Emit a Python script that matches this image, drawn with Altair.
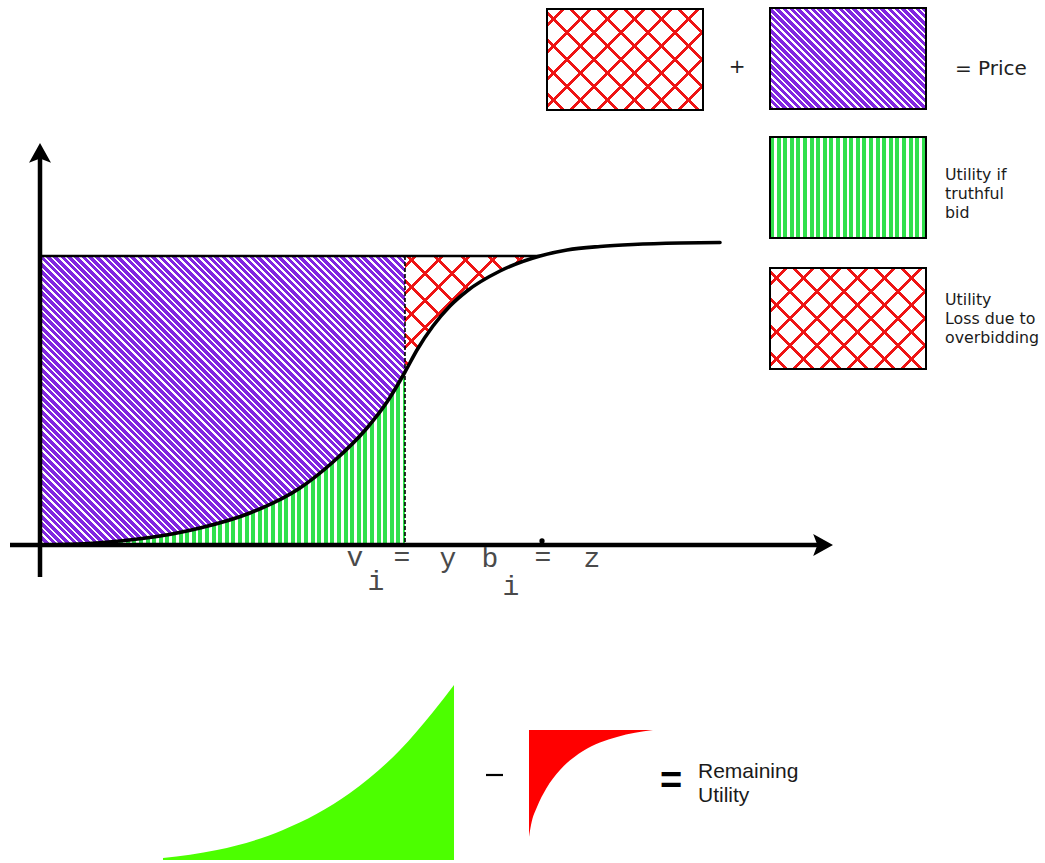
import math

import altair as alt
import numpy as np
import pandas as pd

# Drawing frame in canvas units (x to the right, y downward)
CANVAS_W, CANVAS_H = 1045, 863

# Win-probability curve of the bidder
curve_x = [40, 80, 120, 160, 200, 250, 300, 333, 367, 387, 405, 417, 433, 450,
           467, 500, 540, 567, 600, 633, 680, 720]
curve_y = [545, 544, 541, 536, 528, 513, 488, 462, 428, 402, 372, 350, 326, 306,
           291, 271, 256, 250, 246.5, 244.5, 243, 242.5]

ORIGIN_X, ORIGIN_Y = 40, 545       # where the two axes meet
V_I = 405                          # true value  v_i = y
B_I = 540                          # submitted bid  b_i = z
P_Z = curve_y[curve_x.index(B_I)]  # win probability at the bid (top of the price box)

# Small shapes of the "gain - loss = remaining utility" equation
gain_x = [163, 217, 283, 350, 400, 433, 454]
gain_y = [858, 850, 830, 793, 750, 712, 685]
GAIN_BASE = 860
loss_x = [529, 531, 537, 546, 560, 583, 617, 653]
loss_y = [837, 825, 807, 789, 770, 751, 737, 730]
LOSS_TOP = 730

# Legend swatches
boxes = pd.DataFrame({
    "name": ["loss_a", "price", "utility", "loss_b"],
    "x": [547, 770, 770, 770], "x2": [703, 926, 926, 926],
    "y": [9, 8, 137, 268], "y2": [110, 109, 238, 369],
})

PURPLE = "#8127e0"
GREEN = "#30e04c"
RED = "#ee1414"
LIME = "#4cff00"
PURE_RED = "#ff0000"
CLEAR = "rgba(255,255,255,0)"

XS = alt.Scale(domain=[0, CANVAS_W], range=[0, CANVAS_W], nice=False, zero=False)
YS = alt.Scale(domain=[0, CANVAS_H], range=[0, CANVAS_H], nice=False, zero=False)


def ex(f="x"):
    return alt.X(f"{f}:Q", scale=XS, axis=None)


def ey(f="y"):
    return alt.Y(f"{f}:Q", scale=YS, axis=None)


def stripes(w, h, normal, period, line, color, bg, phase=0.0):
    """Linear gradient with hard stops that paints parallel stripes of a given
    pixel period across a w x h bounding box (normal = stripe normal)."""
    nx, ny = normal
    n = math.hypot(nx, ny)
    nx, ny = nx / n, ny / n
    corners = [(0, 0), (w, 0), (0, h), (w, h)]
    proj = [nx * cx + ny * cy for cx, cy in corners]
    i0 = int(np.argmin(proj))
    L = max(proj) - min(proj)
    cx, cy = corners[i0]
    k = L / (nx * nx * w * w + ny * ny * h * h)
    x1, y1 = cx / w, cy / h
    x2, y2 = x1 + k * nx * w, y1 + k * ny * h

    def c(v):
        return round(min(max(v / L, 0.0), 1.0), 5)

    stops = []
    p = (phase % period) - period
    while p < L:
        a, b, e = c(p), c(p + line), c(p + period)
        stops += [(a, color), (b, color), (b, bg), (e, bg)]
        p += period
    return alt.LinearGradient(
        gradient="linear",
        stops=[alt.GradientStop(offset=o, color=col) for o, col in stops],
        x1=x1, y1=y1, x2=x2, y2=y2,
    )


# Stripe geometry (pixels, measured perpendicular to the stripes)
DIAG_PERIOD, DIAG_LINE = 7 / math.sqrt(2), 2.9
VERT_PERIOD, VERT_LINE = 6.6, 4.0
CROSS_PERIOD, CROSS_LINE = 27 / math.sqrt(2), 3.0

curve = pd.DataFrame({"x": curve_x, "y": curve_y})
price_part = curve[curve.x <= V_I].assign(top=P_Z)
utility_part = curve[curve.x <= V_I].assign(base=ORIGIN_Y)
loss_part = curve[(curve.x >= V_I) & (curve.x <= B_I)].assign(top=P_Z)

y_at_v = curve_y[curve_x.index(V_I)]
pw, ph = V_I - ORIGIN_X, ORIGIN_Y - P_Z
uw, uh = V_I - ORIGIN_X, ORIGIN_Y - y_at_v
lw, lh = B_I - V_I, y_at_v - P_Z

layers = []

# Price paid for the truthful part (purple diagonal hatching)
layers.append(alt.Chart(price_part).mark_area(
    interpolate="monotone", opacity=1, strokeWidth=0,
    color=stripes(pw, ph, (1, -1), DIAG_PERIOD, DIAG_LINE, PURPLE, "white"),
).encode(x=ex(), y=ey(), y2=alt.Y2("top:Q")))

# Utility of a truthful bid (green vertical hatching)
layers.append(alt.Chart(utility_part).mark_area(
    interpolate="monotone", opacity=1, strokeWidth=0,
    color=stripes(uw, uh, (1, 0), VERT_PERIOD, VERT_LINE, GREEN, "white"),
).encode(x=ex(), y=ey(), y2=alt.Y2("base:Q")))

# Extra price from overbidding (red cross hatching)
layers.append(alt.Chart(loss_part).mark_area(
    interpolate="monotone", opacity=1, strokeWidth=0,
    color=stripes(lw, lh, (1, 1), CROSS_PERIOD, CROSS_LINE, RED, "white", phase=6),
).encode(x=ex(), y=ey(), y2=alt.Y2("top:Q")))
layers.append(alt.Chart(loss_part).mark_area(
    interpolate="monotone", opacity=1, strokeWidth=0,
    color=stripes(lw, lh, (1, -1), CROSS_PERIOD, CROSS_LINE, RED, CLEAR, phase=6),
).encode(x=ex(), y=ey(), y2=alt.Y2("top:Q")))

# Top edge of the price box and the dashed boundary at v_i
layers.append(alt.Chart(pd.DataFrame({"x": [ORIGIN_X], "x2": [B_I], "y": [P_Z]}))
              .mark_rule(color="black", strokeWidth=2.5)
              .encode(x=ex(), x2=alt.X2("x2:Q"), y=ey()))
layers.append(alt.Chart(pd.DataFrame({"x": [V_I], "y": [P_Z], "y2": [ORIGIN_Y]}))
              .mark_rule(color="black", strokeWidth=1.6, strokeDash=[4, 2])
              .encode(x=ex(), y=ey(), y2=alt.Y2("y2:Q")))

# The probability curve itself
layers.append(alt.Chart(curve).mark_line(
    interpolate="monotone", color="black", strokeWidth=3.6, strokeCap="round"
).encode(x=ex(), y=ey()))

# Axes with arrow heads
layers.append(alt.Chart(pd.DataFrame({"x": [ORIGIN_X], "y": [577], "y2": [152]}))
              .mark_rule(color="black", strokeWidth=4.5)
              .encode(x=ex(), y=ey(), y2=alt.Y2("y2:Q")))
layers.append(alt.Chart(pd.DataFrame({"x": [10], "x2": [820], "y": [ORIGIN_Y]}))
              .mark_rule(color="black", strokeWidth=4.5)
              .encode(x=ex(), x2=alt.X2("x2:Q"), y=ey()))
layers.append(alt.Chart(pd.DataFrame({"x": [ORIGIN_X], "y": [154]})).mark_point(
    shape="M0,-1L1,0.8L0,0.42L-1,0.8Z", filled=True, color="black", opacity=1,
    size=484, strokeWidth=0,
).encode(x=ex(), y=ey()))
layers.append(alt.Chart(pd.DataFrame({"x": [822], "y": [ORIGIN_Y]})).mark_point(
    shape="M1,0L-0.8,1L-0.42,0L-0.8,-1Z", filled=True, color="black", opacity=1,
    size=484, strokeWidth=0,
).encode(x=ex(), y=ey()))
layers.append(alt.Chart(pd.DataFrame({"x": [B_I + 2], "y": [ORIGIN_Y - 4]})).mark_point(
    shape="circle", filled=True, color="black", opacity=1, size=28, strokeWidth=0,
).encode(x=ex(), y=ey()))

# Axis annotation  v_i = y   b_i = z
glyphs = pd.DataFrame({
    "text": ["v", "i", "=", "y", "b", "i", "=", "z"],
    "x": [355, 376, 402, 448, 490, 511, 543, 592],
    "y": [566, 590, 566, 567, 567, 595, 566, 567],
})
layers.append(alt.Chart(glyphs).mark_text(
    font="Liberation Mono", fontSize=28, color="#4a4a4a", align="center",
    baseline="alphabetic",
).encode(x=ex(), y=ey(), text="text:N"))


# Legend swatches
def swatch(name, *grads):
    sub = boxes[boxes.name == name]
    w = float(sub.x2.iloc[0] - sub.x.iloc[0])
    h = float(sub.y2.iloc[0] - sub.y.iloc[0])
    out = []
    for g in grads:
        out.append(alt.Chart(sub).mark_rect(fill=g(w, h), strokeWidth=0, opacity=1)
                   .encode(x=ex(), x2=alt.X2("x2:Q"), y=ey(), y2=alt.Y2("y2:Q")))
    return out


def cross_a(w, h):
    return stripes(w, h, (1, 1), CROSS_PERIOD, CROSS_LINE, RED, "white", phase=10)


def cross_b(w, h):
    return stripes(w, h, (1, -1), CROSS_PERIOD, CROSS_LINE, RED, CLEAR, phase=10)


layers += swatch("loss_a", cross_a, cross_b)
layers += swatch("loss_b", cross_a, cross_b)
layers += swatch("price", lambda w, h: stripes(w, h, (1, -1), DIAG_PERIOD, DIAG_LINE,
                                               PURPLE, "white"))
layers += swatch("utility", lambda w, h: stripes(w, h, (1, 0), VERT_PERIOD, VERT_LINE,
                                                 GREEN, "white"))
layers.append(alt.Chart(boxes).mark_rect(fillOpacity=0, stroke="black", strokeWidth=2)
              .encode(x=ex(), x2=alt.X2("x2:Q"), y=ey(), y2=alt.Y2("y2:Q")))

# Legend texts
layers.append(alt.Chart(pd.DataFrame({"x": [737], "y": [73], "text": ["+"]}))
              .mark_text(font="DejaVu Sans", fontSize=20, color="#222222", align="center",
                         baseline="alphabetic")
              .encode(x=ex(), y=ey(), text="text:N"))
layers.append(alt.Chart(pd.DataFrame({"x": [955], "y": [75], "text": ["= Price"]}))
              .mark_text(font="DejaVu Sans", fontSize=20, color="#222222", align="left",
                         baseline="alphabetic")
              .encode(x=ex(), y=ey(), text="text:N"))
legend_lines = pd.DataFrame({
    "x": [945] * 6,
    "y": [180, 199, 218, 305, 324, 343],
    "text": ["Utility if", "truthful", "bid", "Utility", "Loss due to", "overbidding"],
})
layers.append(alt.Chart(legend_lines).mark_text(
    font="DejaVu Sans", fontSize=15.8, color="#1a1a1a", align="left", baseline="alphabetic",
).encode(x=ex(), y=ey(), text="text:N"))

# Bottom equation: gain - loss = remaining utility
gain = pd.DataFrame({"x": gain_x, "y": gain_y, "base": GAIN_BASE})
layers.append(alt.Chart(gain).mark_area(interpolate="monotone", color=LIME, opacity=1)
              .encode(x=ex(), y=ey(), y2=alt.Y2("base:Q")))
loss = pd.DataFrame({"x": loss_x, "y": loss_y, "top": LOSS_TOP})
layers.append(alt.Chart(loss).mark_area(interpolate="monotone", color=PURE_RED, opacity=1)
              .encode(x=ex(), y=ey(), y2=alt.Y2("top:Q")))
layers.append(alt.Chart(pd.DataFrame({"x": [486], "x2": [503], "y": [775]}))
              .mark_rule(color="black", strokeWidth=2.2)
              .encode(x=ex(), x2=alt.X2("x2:Q"), y=ey()))
layers.append(alt.Chart(pd.DataFrame({"x": [671], "y": [793], "text": ["="]}))
              .mark_text(font="Liberation Sans", fontWeight="bold", fontSize=38,
                         color="black", align="center", baseline="alphabetic")
              .encode(x=ex(), y=ey(), text="text:N"))
layers.append(alt.Chart(pd.DataFrame({"x": [698, 698], "y": [778, 802],
                                      "text": ["Remaining", "Utility"]}))
              .mark_text(font="Liberation Sans", fontSize=21, color="#1a1a1a",
                         align="left", baseline="alphabetic")
              .encode(x=ex(), y=ey(), text="text:N"))

chart = alt.layer(*layers).properties(
    width=CANVAS_W, height=CANVAS_H, padding=0, background="white",
    autosize=alt.AutoSizeParams(type="none"),
).configure_view(stroke=None)

chart.save("out.html", embed_options={"renderer": "svg", "actions": False})
